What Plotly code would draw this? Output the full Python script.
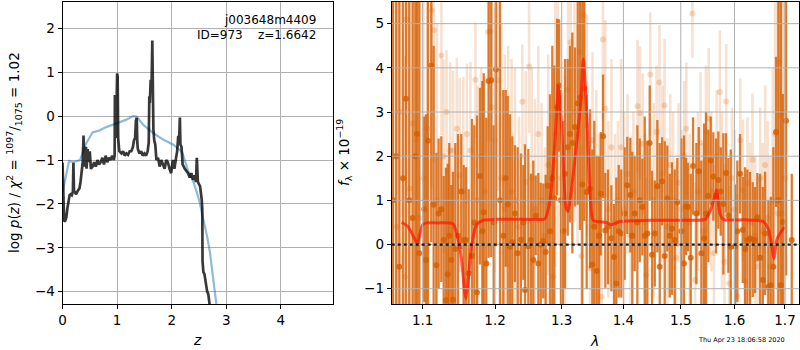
import plotly.graph_objects as go

# ---------------- left panel: redshift PDF ----------------
pz_z = [0.00, 0.01, 0.02, 0.03, 0.05, 0.07, 0.09, 0.11, 0.13, 0.15, 0.17, 0.19,
        0.20, 0.21, 0.23, 0.25, 0.28, 0.31, 0.33, 0.35, 0.36, 0.37, 0.385, 0.40,
        0.42, 0.43, 0.44, 0.46, 0.48, 0.50, 0.52, 0.55, 0.58, 0.61, 0.64, 0.67,
        0.70, 0.73, 0.76, 0.79, 0.82, 0.85, 0.88, 0.91, 0.94, 0.955, 0.96, 0.97,
        0.98, 0.99, 1.00, 1.01, 1.02, 1.04, 1.08, 1.11, 1.14, 1.17, 1.20, 1.23,
        1.26, 1.29, 1.31, 1.33, 1.345, 1.36, 1.37, 1.38, 1.41, 1.44, 1.47, 1.50,
        1.53, 1.56, 1.58, 1.59, 1.60, 1.615, 1.63, 1.645, 1.655, 1.665, 1.68,
        1.70, 1.72, 1.75, 1.78, 1.81, 1.84, 1.87, 1.90, 1.93, 1.96, 1.99, 2.02,
        2.05, 2.08, 2.10, 2.12, 2.135, 2.15, 2.16, 2.18, 2.20, 2.24, 2.27, 2.30,
        2.33, 2.36, 2.39, 2.42, 2.445, 2.46, 2.48, 2.52, 2.55, 2.56, 2.565, 2.58,
        2.60, 2.63, 2.65, 2.67, 2.70]
pz_logp = [-1.06, -1.6, -2.35, -2.4, -2.38, -2.3, -2.1, -1.95, -1.8, -1.78, -1.8, -1.72,
           -1.06, -1.7, -1.75, -1.78, -1.7, -1.65, -1.5, -1.3, -1.1, -1.05, -0.44, -1.15,
           -0.85, -0.7, -1.2, -0.75, -1.05, -0.8, -1.2, -1.15, -1.05, -1.15, -1.0, -1.1,
           -1.05, -0.95, -1.1, -0.9, -1.05, -0.95, -1.0, -0.9, -1.0, -0.9, 0.48, 0.4,
           -0.5, 0.0, 0.97, 0.9, -0.5, -0.8, -0.85, -0.8, -0.9, -0.85, -0.88, -0.8,
           -0.8, -0.7, -0.55, -0.5, -0.1, -0.04, -0.6, -0.75, -0.85, -0.8, -0.9, -0.85,
           -0.9, -0.8, -0.6, 0.45, 0.3, 0.83, 0.6, 1.72, 0.5, -0.3, -0.55,
           -0.65, -1.0, -0.95, -1.15, -1.0, -1.1, -1.2, -1.0, -1.05, -1.2, -1.3, -1.0,
           -1.2, -0.95, -0.8, -0.45, -0.6, -0.03, -0.65, -0.7, -1.1, -1.2, -1.25, -1.3,
           -1.4, -1.3, -1.45, -1.35, -1.5, -0.95, -1.5, -1.6, -1.9, -2.1, -3.3, -3.55,
           -3.6, -3.9, -4.0, -4.05, -4.35]

prior_z = [0.00, 0.04, 0.07, 0.12, 0.20, 0.32, 0.43, 0.55, 0.67, 0.80, 0.98, 1.17,
           1.29, 1.36, 1.48, 1.67, 1.85, 2.03, 2.15, 2.20, 2.30, 2.40, 2.50, 2.60,
           2.65, 2.70, 2.75, 2.80, 2.84]
prior_logp = [-1.75, -1.5, -1.3, -1.02, -1.05, -1.0, -0.63, -0.37, -0.33, -0.25, -0.17, -0.08,
              0.0, -0.01, -0.2, -0.39, -0.54, -0.65, -0.77, -0.85, -1.25, -1.5, -1.9, -2.45,
              -2.75, -3.1, -3.55, -4.05, -4.5]

z_ticks = [0, 1, 2, 3, 4]
logp_ticks = [-4, -3, -2, -1, 0, 1, 2]

# ---------------- right panel: 1D spectrum ----------------
dark_wave = [1.0614, 1.0656, 1.0695, 1.0743, 1.0781, 1.0824, 1.0869, 1.0903, 1.0925, 1.0955,
             1.1021, 1.1044, 1.1070, 1.1114, 1.1146, 1.1182, 1.1213, 1.1249, 1.1281, 1.1312,
             1.1336, 1.1357, 1.1385, 1.1408, 1.1440, 1.1477, 1.1522, 1.1556, 1.1588, 1.1625,
             1.1671, 1.1704, 1.1742, 1.1784, 1.1817, 1.1837, 1.1874, 1.1908, 1.1945, 1.1980,
             1.2013, 1.2071, 1.2119, 1.2154, 1.2183, 1.2217, 1.2251, 1.2290, 1.2330, 1.2379,
             1.2414, 1.2439, 1.2489, 1.2529, 1.2564, 1.2600, 1.2640, 1.2676, 1.2716, 1.2752,
             1.2783, 1.2818, 1.2854, 1.2885, 1.2927, 1.2958, 1.2989, 1.3020, 1.3052, 1.3094,
             1.3130, 1.3167, 1.3209, 1.3252, 1.3289, 1.3326, 1.3358, 1.3396, 1.3450, 1.3487,
             1.3519, 1.3558, 1.3596, 1.3624, 1.3662, 1.3699, 1.3744, 1.3799, 1.3843, 1.3882,
             1.3922, 1.3965, 1.4022, 1.4066, 1.4117, 1.4151, 1.4192, 1.4237, 1.4278, 1.4322,
             1.4364, 1.4409, 1.4450, 1.4491, 1.4538, 1.4583, 1.4625, 1.4666, 1.4713, 1.4759,
             1.4802, 1.4843, 1.4891, 1.4938, 1.5010, 1.5058, 1.5095, 1.5131, 1.5180, 1.5222,
             1.5283, 1.5327, 1.5375, 1.5425, 1.5462, 1.5505, 1.5549, 1.5598, 1.5649, 1.5692,
             1.5737, 1.5787, 1.5838, 1.5882, 1.5928, 1.6010, 1.6054, 1.6107, 1.6159, 1.6204,
             1.6249, 1.6301, 1.6354, 1.6400, 1.6445, 1.6499, 1.6552, 1.6598, 1.6664, 1.6712,
             1.6764, 1.6819, 1.6865, 1.6914, 1.6955, 1.7022, 1.7139]
dark_flux = [1.0, 2.0, -0.5, 1.5, 3.3, 1.0, 0.6, 2.0, 2.5, -0.2,
             0.8, -0.35, 2.35, 4.05, 0.9, -0.47, 0.7, 0.8, 0.1, -1.26,
             -0.67, 0.2, -0.35, -1.25, -0.1, 0.2, 1.2, 0.1, 0.1, -0.65,
             -0.26, 0.5, -1.08, 1.55, 0.3, 0.73, -0.43, 3.7, 3.72, 0.5,
             3.96, 1.0, 0.2, 1.5, 0.91, -0.05, 0.05, 0.7, -0.2, 0.11,
             0.5, -1.03, -0.04, 0.1, -0.35, 0.66, -0.43, 0.0, 0.08, -0.17,
             1.33, 0.3, 1.5, 1.05, 3.11, 3.6, 1.0, 0.3, 1.6, 2.2,
             2.5, 2.3, 2.66, 3.2, 3.33, 1.36, 3.53, 1.19, 1.26, -0.45,
             0.4, -0.6, 0.2, 1.15, 2.45, 0.32, 0.4, 0.14, -0.28, -0.88,
             0.3, 0.25, 0.7, 1.34, 1.12, 0.2, 0.7, 0.5, 1.0, 0.85,
             0.2, 0.25, 2.3, -0.23, 0.25, 1.32, -0.5, 1.43, -0.26, 1.04,
             0.2, 0.36, 0.1, 0.96, 0.3, -0.43, 0.86, 0.85, -0.3, 1.78,
             0.7, 1.66, -0.2, 0.14, 0.7, 1.1, 1.9, 1.54, 1.1, 1.46,
             1.2, 0.92, 1.62, 0.66, -0.05, -0.04, 0.3, 1.6, 0.33, -0.1,
             0.1, 0.14, 0.11, 0.1, 0.62, -0.3, -0.8, 0.25, -0.96, -0.92,
             -0.5, 2.55, 1.0, -0.92, 0.51, 2.8, 0.1]
dark_err = [7.0, 6.0, 7.0, 6.0, 5.0, 6.0, 6.0, 6.0, 5.0, 6.0,
            2.1, 3.3, 5.0, 4.0, 3.6, 2.55, 1.7, 1.65, 1.45, 3.0,
            2.5, 2.1, 1.7, 2.9, 2.4, 2.3, 1.3, 1.7, 1.65, 1.9,
            3.1, 2.2, 4.0, 2.0, 3.4, 3.15, 3.3, 4.0, 4.0, 2.2,
            4.0, 5.0, 3.3, 2.0, 2.45, 3.0, 2.4, 1.55, 2.4, 1.95,
            1.3, 3.3, 2.2, 1.5, 2.25, 0.9, 2.05, 1.4, 1.3, 1.75,
            1.35, 3.1, 3.0, 3.0, 2.0, 1.5, 2.5, 2.5, 2.6, 2.0,
            2.0, 2.5, 1.8, 2.3, 3.0, 4.5, 3.0, 2.2, 1.8, 2.6,
            2.4, 2.6, 1.8, 1.4, 1.4, 1.3, 1.3, 1.2, 1.2, 2.4,
            1.5, 1.45, 1.5, 1.1, 1.3, 1.9, 1.3, 2.2, 1.4, 1.1,
            2.7, 2.1, 1.3, 1.9, 1.2, 1.5, 2.8, 1.0, 2.6, 1.2,
            1.4, 1.5, 1.6, 1.0, 2.1, 2.9, 1.1, 1.0, 1.9, 1.1,
            1.6, 1.0, 2.1, 2.6, 2.3, 1.5, 1.0, 1.0, 1.3, 1.1,
            1.0, 1.6, 0.9, 1.3, 2.2, 1.4, 1.6, 0.9, 1.2, 1.85,
            1.6, 1.5, 1.3, 1.2, 1.0, 1.9, 2.1, 1.4, 1.95, 2.0,
            2.7, 1.7, 5.0, 7.0, 2.9, 3.5, 1.5]

light_wave = [1.062, 1.066, 1.071, 1.077, 1.079, 1.083, 1.087, 1.092, 1.096, 1.101,
              1.106, 1.112, 1.115, 1.119, 1.125, 1.128, 1.132, 1.137, 1.141, 1.146,
              1.150, 1.155, 1.160, 1.165, 1.172, 1.175, 1.180, 1.185, 1.190, 1.193,
              1.196, 1.200, 1.204, 1.209, 1.214, 1.219, 1.224, 1.229, 1.235, 1.240,
              1.245, 1.250, 1.254, 1.259, 1.264, 1.269, 1.274, 1.279, 1.287, 1.290,
              1.294, 1.299, 1.305, 1.310, 1.314, 1.320, 1.325, 1.329, 1.331, 1.335,
              1.340, 1.345, 1.349, 1.355, 1.360, 1.364, 1.366, 1.370, 1.375, 1.380,
              1.386, 1.391, 1.396, 1.401, 1.407, 1.412, 1.417, 1.424, 1.428, 1.433,
              1.437, 1.439, 1.446, 1.452, 1.457, 1.462, 1.467, 1.471, 1.476, 1.481,
              1.486, 1.491, 1.496, 1.501, 1.506, 1.510, 1.516, 1.521, 1.526, 1.531,
              1.536, 1.541, 1.546, 1.551, 1.556, 1.561, 1.566, 1.572, 1.576, 1.581,
              1.584, 1.590, 1.595, 1.600, 1.605, 1.611, 1.616, 1.620, 1.625, 1.630,
              1.635, 1.640, 1.645, 1.650, 1.655, 1.660, 1.665, 1.670, 1.675, 1.680,
              1.685, 1.688, 1.691, 1.694, 1.697, 1.700]
light_flux = [2.0, 0.4, 3.0, -0.73, 5.1, 1.27, 2.74, 2.36, 0.6, 1.5,
              2.62, 5.3, 4.85, 1.0, 4.28, 2.0, 3.0, 2.13, 2.13, 2.62,
              1.57, 1.2, 2.5, 2.13, 3.73, 1.0, 2.0, 1.2, 4.81, 4.83,
              3.11, 2.36, 3.72, 1.5, 0.8, 2.0, 1.2, 1.0, 0.4, 3.23,
              1.42, 4.03, 1.5, 0.8, 2.5, 1.0, 0.2, 1.8, -0.73, 2.5,
              3.0, 1.5, 0.32, 3.5, 4.58, 3.0, 2.5, 4.36, -0.26, 5.19,
              2.7, -0.54, 2.36, 1.0, 0.5, -1.18, 4.64, 3.08, 0.8, 2.2,
              0.5, 1.0, 2.2, 0.8, 1.6, 0.2, 1.2, 3.13, 2.98, 2.28,
              0.5, -0.69, 3.85, 1.0, 2.55, 3.67, 1.6, 3.15, 0.4, 1.8,
              1.0, -0.3, 1.4, 0.8, 2.0, 2.62, 0.5, 5.23, -0.8, 1.2,
              2.3, 0.3, 2.55, 2.85, 1.2, -0.2, 2.0, 3.45, 1.0, -0.39,
              3.24, -0.88, 1.5, 0.8, -1.17, 2.36, 1.23, -0.84, 1.38, 0.5,
              1.92, 0.2, -0.5, 1.5, 0.3, 1.8, 0.6, -0.5, 1.0, 2.5,
              0.7, 4.13, 2.93, 0.7, 3.0, 1.5]
light_err = [6.0, 6.0, 5.0, 5.0, 4.0, 5.0, 5.0, 5.0, 6.0, 6.0,
             5.0, 4.0, 3.0, 4.0, 1.8, 2.2, 1.4, 2.0, 1.8, 1.6,
             2.2, 2.6, 1.6, 2.0, 1.3, 2.6, 2.0, 2.6, 2.5, 2.5,
             2.5, 3.0, 2.5, 3.5, 3.5, 2.5, 3.0, 3.0, 2.5, 1.3,
             2.5, 1.5, 2.5, 2.5, 2.0, 2.2, 2.0, 2.5, 3.0, 3.0,
             3.0, 3.5, 3.5, 2.5, 2.0, 2.5, 2.5, 2.0, 2.5, 2.0,
             2.5, 2.5, 2.0, 2.5, 2.0, 2.2, 1.8, 2.0, 2.0, 2.0,
             2.0, 1.8, 2.0, 2.2, 1.8, 2.2, 1.8, 1.5, 1.5, 1.6,
             2.0, 2.2, 1.4, 2.2, 1.5, 1.3, 2.0, 1.5, 2.0, 1.6,
             2.0, 2.2, 1.8, 1.8, 1.7, 1.5, 2.0, 1.0, 2.2, 1.8,
             1.6, 2.0, 1.5, 1.6, 1.8, 2.0, 1.5, 1.4, 2.0, 2.2,
             1.3, 2.2, 1.6, 1.8, 2.3, 1.4, 1.6, 2.0, 1.5, 1.8,
             1.5, 1.8, 2.0, 1.6, 2.0, 1.8, 2.2, 2.5, 3.0, 3.5,
             5.0, 3.5, 4.0, 5.0, 5.0, 5.0]

model_wave = [1.0726, 1.080, 1.086, 1.0929, 1.0965, 1.100, 1.105, 1.120, 1.135, 1.1412,
              1.146, 1.1523, 1.1564, 1.1587, 1.1619, 1.1667, 1.1737, 1.1831, 1.200, 1.230,
              1.260, 1.2741, 1.2818, 1.2880, 1.2922, 1.2946, 1.2985, 1.3025, 1.3067, 1.3100,
              1.3157, 1.3236, 1.3300, 1.3342, 1.3396, 1.3449, 1.3502, 1.3722, 1.3804, 1.3943,
              1.450, 1.500, 1.5442, 1.5535, 1.5629, 1.5661, 1.5723, 1.5785, 1.620, 1.6563,
              1.6662, 1.6730, 1.6776, 1.6831, 1.6898, 1.7000]
model_flux = [0.50, 0.42, 0.25, 0.02, 0.25, 0.45, 0.49, 0.49, 0.49, 0.47,
              0.25, -0.3, -1.0, -1.22, -0.8, 0.0, 0.45, 0.55, 0.57, 0.57,
              0.57, 0.58, 1.0, 2.0, 3.0, 3.6, 3.0, 1.8, 0.85, 0.75,
              1.3, 2.3, 3.2, 4.2, 3.0, 1.2, 0.55, 0.5, 0.45, 0.52,
              0.55, 0.55, 0.57, 0.75, 1.1, 1.24, 0.7, 0.57, 0.56, 0.52,
              0.35, 0.0, -0.32, 0.1, 0.25, 0.4]

wave_ticks = [1.1, 1.2, 1.3, 1.4, 1.5, 1.6, 1.7]
wave_labels = ["1.1", "1.2", "1.3", "1.4", "1.5", "1.6", "1.7"]
flux_ticks = [-1, 0, 1, 2, 3, 4, 5]

FONT = "DejaVu Sans"
ORANGE = "213,94,0"

fig = go.Figure()

# left panel
fig.add_trace(go.Scatter(x=prior_z, y=prior_logp, mode="lines",
                         line=dict(color="rgba(31,119,180,0.5)", width=2.2),
                         xaxis="x", yaxis="y", showlegend=False, hoverinfo="skip"))
fig.add_trace(go.Scatter(x=pz_z, y=pz_logp, mode="lines",
                         line=dict(color="rgba(0,0,0,0.78)", width=2.7),
                         xaxis="x", yaxis="y", showlegend=False, hoverinfo="skip"))

# right panel
fig.add_trace(go.Scatter(x=light_wave, y=light_flux, mode="markers",
                         marker=dict(color=f"rgba({ORANGE},0.22)", size=6, line=dict(width=0)),
                         error_y=dict(type="data", array=light_err, visible=True,
                                      color=f"rgba({ORANGE},0.18)", thickness=2.6, width=0),
                         xaxis="x2", yaxis="y2", showlegend=False, hoverinfo="skip"))
fig.add_trace(go.Scatter(x=dark_wave, y=dark_flux, mode="markers",
                         marker=dict(color=f"rgba({ORANGE},0.8)", size=6, line=dict(width=0)),
                         error_y=dict(type="data", array=dark_err, visible=True,
                                      color=f"rgba({ORANGE},0.8)", thickness=2.3, width=0),
                         xaxis="x2", yaxis="y2", showlegend=False, hoverinfo="skip"))
fig.add_trace(go.Scatter(x=model_wave, y=model_flux, mode="lines",
                         line=dict(color="rgba(255,20,0,0.7)", width=3, shape="spline", smoothing=0.6),
                         xaxis="x2", yaxis="y2", showlegend=False, hoverinfo="skip"))

axis_common = dict(showline=True, mirror=True, linecolor="black", linewidth=1,
                   ticks="outside", ticklen=4, tickcolor="black", tickwidth=1,
                   zeroline=False, tickfont=dict(family=FONT, size=13.5, color="black"))

shapes = []
for w in wave_ticks:
    shapes.append(dict(type="line", xref="x2", yref="y2 domain", x0=w, x1=w, y0=0, y1=1,
                       line=dict(color="#b0b0b0", width=1), layer="above"))
for f in flux_ticks:
    shapes.append(dict(type="line", xref="x2 domain", yref="y2", x0=0, x1=1, y0=f, y1=f,
                       line=dict(color="#b0b0b0", width=1), layer="above"))
shapes.append(dict(type="line", xref="x2 domain", yref="y2", x0=0, x1=1, y0=0, y1=0,
                   line=dict(color="rgba(0,0,0,0.85)", width=2.2, dash="dot"), layer="above"))

annotations = [
    dict(text="j003648m4409", xref="x domain", yref="y domain", x=0.944, y=0.94,
         xanchor="right", yanchor="middle", showarrow=False,
         font=dict(family=FONT, size=12, color="black")),
    dict(text="ID=973\u00a0\u00a0\u00a0\u00a0z=1.6642", xref="x domain", yref="y domain",
         x=0.944, y=0.892, xanchor="right", yanchor="middle", showarrow=False,
         font=dict(family=FONT, size=12, color="black")),
    dict(text="log <i>p</i>(<i>z</i>) / <i>χ</i><sup>2</sup> = <sup>1097</sup>/<sub>1075</sub> = 1.02",
         xref="paper", yref="paper", x=14 / 800, y=0.5, textangle=-90,
         xanchor="center", yanchor="middle", showarrow=False,
         font=dict(family=FONT, size=13.5, color="black")),
    dict(text="<i>f</i><sub>λ</sub> × 10<sup>−19</sup>",
         xref="paper", yref="paper", x=344 / 800, y=0.5, textangle=-90,
         xanchor="center", yanchor="middle", showarrow=False,
         font=dict(family=FONT, size=13.5, color="black")),
    dict(text="<i>z</i>", xref="paper", yref="paper", x=197 / 800, y=(304 - 340) / 302,
         xanchor="center", yanchor="middle", showarrow=False,
         font=dict(family=FONT, size=14, color="black")),
    dict(text="<i>λ</i>", xref="paper", yref="paper", x=594 / 800, y=(304 - 341) / 302,
         xanchor="center", yanchor="middle", showarrow=False,
         font=dict(family=FONT, size=14, color="black")),
    dict(text="Thu Apr 23 18:06:58 2020", xref="paper", yref="paper", x=787 / 800,
         y=(304 - 340) / 302, xanchor="right", yanchor="middle", showarrow=False,
         font=dict(family=FONT, size=6.5, color="black")),
]

fig.update_layout(
    width=800, height=350,
    margin=dict(l=0, r=0, t=2, b=46, autoexpand=False),
    plot_bgcolor="white", paper_bgcolor="white",
    font=dict(family=FONT, size=13.5, color="black"),
    xaxis=dict(domain=[62.5 / 800, 333.3 / 800], range=[0, 4.96], tickvals=z_ticks,
               showgrid=True, gridcolor="#b0b0b0", gridwidth=1, anchor="y", **axis_common),
    yaxis=dict(domain=[0, 1], range=[-4.28, 2.6], tickvals=logp_ticks,
               showgrid=True, gridcolor="#b0b0b0", gridwidth=1, anchor="x", **axis_common),
    xaxis2=dict(domain=[391.7 / 800, 799.3 / 800], type="log", range=[0.02523, 0.23792],
                tickvals=wave_ticks, ticktext=wave_labels, showgrid=False, anchor="y2",
                **axis_common),
    yaxis2=dict(domain=[0, 1], range=[-1.346, 5.49], tickvals=flux_ticks,
                showgrid=False, anchor="x2", **axis_common),
    shapes=shapes,
    annotations=annotations,
)

fig.write_html("out.html",
               config={"displayModeBar": False},
               post_script="document.body.style.margin='0';document.body.style.padding='0';")
